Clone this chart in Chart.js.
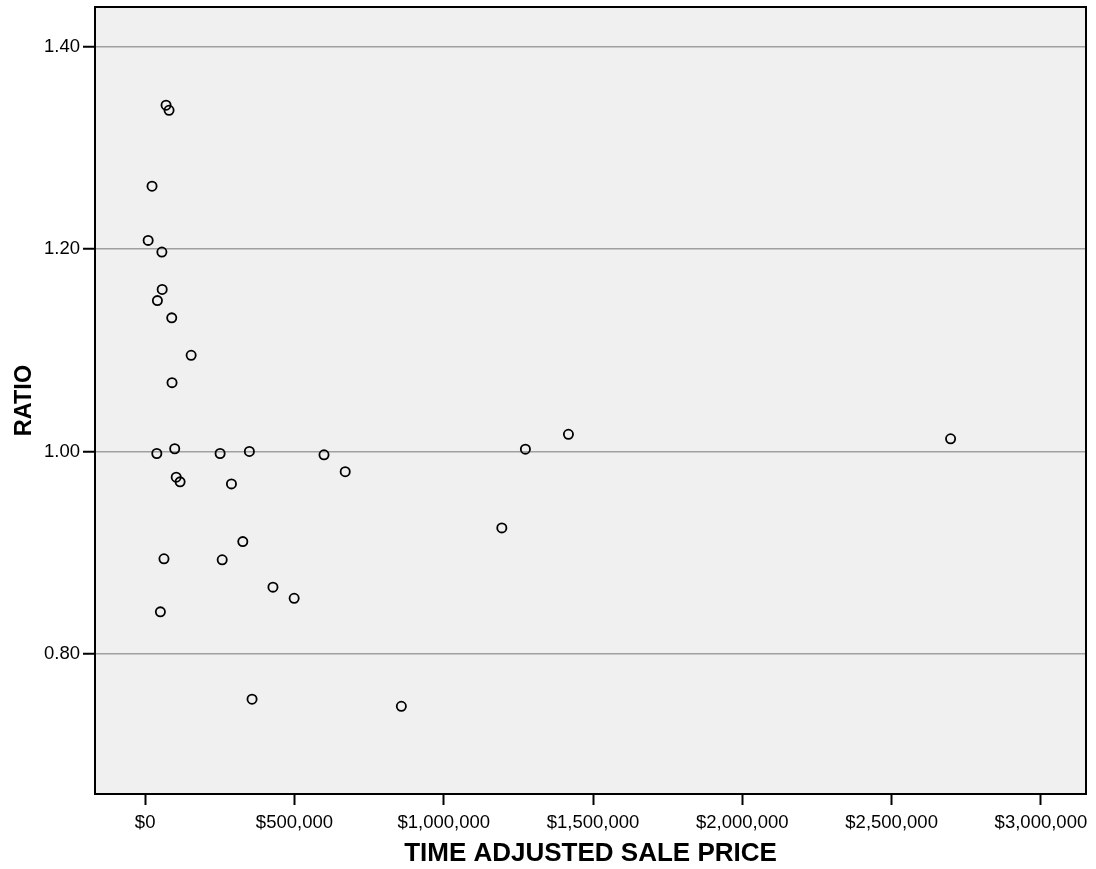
<!DOCTYPE html>
<html>
<head>
<meta charset="utf-8">
<script src="https://cdn.jsdelivr.net/npm/chart.js@4.4.0/dist/chart.umd.min.js"></script>
<style>
  html, body { margin: 0; padding: 0; background: #ffffff; }
  #wrap { width: 1096px; height: 869px; }
</style>
</head>
<body>
<div id="wrap"><canvas id="chart" width="1096" height="869"></canvas></div>
<script>
// sale price (time adjusted) and ratio
const salePrice = [
  70000, 80000, 23000, 10000, 56000, 57000, 41000, 89000, 154000, 90000,
  39000, 99000, 251000, 349000, 599000, 670000, 104000, 117000, 289000,
  327000, 63000, 258000, 428000, 499000, 51000, 358000, 858000,
  1273500, 1417600, 1194500, 2697500
];
const ratio = [
  1.342, 1.337, 1.262, 1.2085, 1.197, 1.160, 1.149, 1.132, 1.095, 1.068,
  0.998, 1.0027, 0.998, 1.000, 0.9967, 0.980, 0.9746, 0.970, 0.968,
  0.911, 0.894, 0.893, 0.866, 0.855, 0.8416, 0.7553, 0.7483,
  1.0023, 1.017, 0.9245, 1.0125
];
const xTicks = [0, 500000, 1000000, 1500000, 2000000, 2500000, 3000000];
const yTicks = [0.8, 1.0, 1.2, 1.4];

const points = salePrice.map((x, i) => ({ x: x, y: ratio[i] }));

// grey plot background + closing frame on top/right
const frame = {
  id: 'frame',
  beforeDraw(chart) {
    const a = chart.chartArea;
    const ctx = chart.ctx;
    ctx.save();
    ctx.fillStyle = '#f0f0f0';
    ctx.fillRect(a.left, a.top, a.right - a.left, a.bottom - a.top);
    ctx.restore();
  },
  afterDraw(chart) {
    const a = chart.chartArea;
    const ctx = chart.ctx;
    ctx.save();
    ctx.strokeStyle = '#000000';
    ctx.lineWidth = 2;
    ctx.strokeRect(a.left, a.top, a.right - a.left, a.bottom - a.top);
    ctx.restore();
  }
};

const money = v => '$' + Number(v).toLocaleString('en-US');
const FONT = 'Liberation Sans, Arial, sans-serif';

new Chart(document.getElementById('chart'), {
  type: 'scatter',
  data: {
    datasets: [{
      data: points,
      pointStyle: 'circle',
      pointRadius: 4.6,
      pointBorderWidth: 1.8,
      borderColor: '#000000',
      backgroundColor: 'rgba(0,0,0,0)'
    }]
  },
  options: {
    responsive: false,
    animation: false,
    devicePixelRatio: 1,
    layout: { padding: { top: 7, right: 10, left: 0, bottom: 0 } },
    plugins: {
      legend: { display: false },
      tooltip: { enabled: false }
    },
    scales: {
      x: {
        type: 'linear',
        min: -168000,
        max: 3151000,
        afterBuildTicks: s => { s.ticks = xTicks.map(v => ({ value: v })); },
        afterFit: s => { s.height = 75; s.paddingLeft = 0; s.paddingRight = 0; },
        border: { display: true, color: '#000000', width: 2 },
        grid: {
          drawOnChartArea: false,
          drawTicks: true,
          tickLength: 11,
          tickColor: '#000000',
          tickWidth: 2
        },
        ticks: {
          color: '#000000',
          padding: 7,
          maxRotation: 0,
          font: { family: FONT, size: 18.5 },
          callback: v => money(v)
        },
        title: {
          display: true,
          text: 'TIME ADJUSTED SALE PRICE',
          color: '#000000',
          padding: { top: 0, bottom: 0 },
          font: { family: FONT, size: 26, weight: 'bold' }
        }
      },
      y: {
        type: 'linear',
        min: 0.6617,
        max: 1.439,
        afterBuildTicks: s => { s.ticks = yTicks.map(v => ({ value: v })); },
        afterFit: s => { s.width = 95; s.paddingTop = 0; s.paddingBottom = 0; },
        border: { display: true, color: '#000000', width: 2 },
        grid: {
          color: '#a0a0a0',
          lineWidth: 1.5,
          drawTicks: true,
          tickLength: 12,
          tickColor: '#000000',
          tickWidth: 2
        },
        ticks: {
          color: '#000000',
          padding: 3,
          font: { family: FONT, size: 18.5 },
          callback: v => Number(v).toFixed(2)
        },
        title: {
          display: true,
          text: 'RATIO',
          color: '#000000',
          padding: { top: 10, bottom: 0 },
          font: { family: FONT, size: 23.5, weight: 'bold' }
        }
      }
    }
  },
  plugins: [frame]
});
</script>
</body>
</html>
